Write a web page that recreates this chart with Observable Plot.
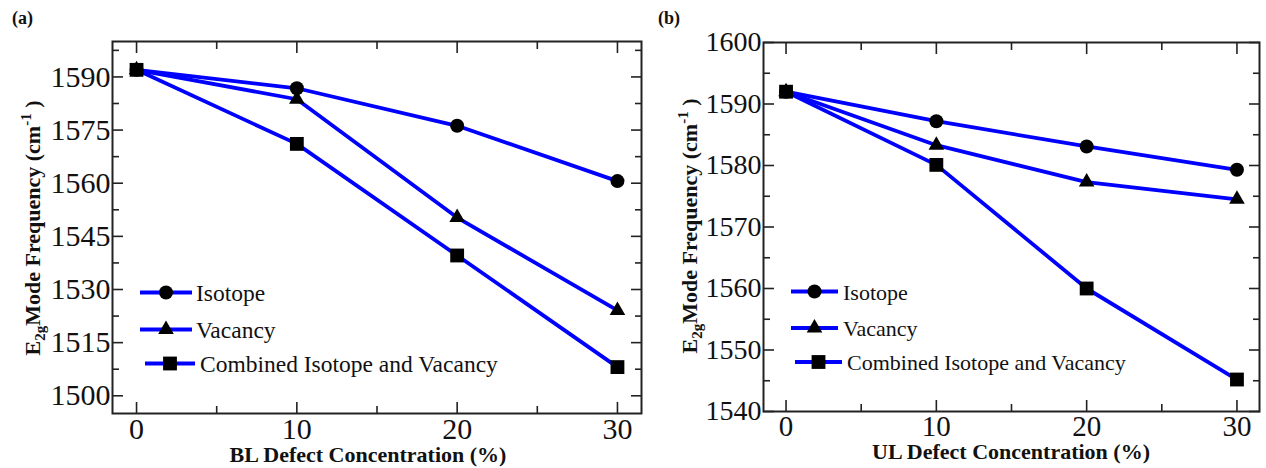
<!DOCTYPE html>
<html><head><meta charset="utf-8">
<script src="https://cdn.jsdelivr.net/npm/d3@7"></script>
<script src="https://cdn.jsdelivr.net/npm/@observablehq/plot@0.6"></script>
<style>
body{margin:0;background:#fff;}
#wrap{display:flex;width:1266px;height:468px;overflow:hidden;}
#wrap svg{display:block;}
#wrap svg, #wrap svg text{font-family:"Liberation Serif","Times New Roman",serif !important;}
</style></head><body><div id="wrap"></div>
<script>
// ---- data ----
const conc = [0, 10, 20, 30];
const seriesNames = ["Isotope", "Vacancy", "Combined Isotope and Vacancy"];
const seriesSymbols = ["circle", "triangle", "square"];

const aIsotope  = [1592, 1586.8, 1576.2, 1560.6];
const aVacancy  = [1592, 1583.7, 1550.3, 1524.1];
const aCombined = [1592, 1571.1, 1539.6, 1508.1];

const bIsotope  = [1592, 1587.2, 1583.1, 1579.3];
const bVacancy  = [1592, 1583.3, 1577.3, 1574.5];
const bCombined = [1592, 1580.1, 1560.0, 1545.2];

const xMajor = [0, 10, 20, 30];
const xMinor = [5, 15, 25];
const aYMajor = [1500, 1515, 1530, 1545, 1560, 1575, 1590];
const aYMinor = [1507.5, 1522.5, 1537.5, 1552.5, 1567.5, 1582.5, 1597.5];
const bYMajor = [1540, 1550, 1560, 1570, 1580, 1590, 1600];
const bYMinor = [1545, 1555, 1565, 1575, 1585, 1595];

const aXLabel = "BL Defect Concentration (%)";
const bXLabel = "UL Defect Concentration (%)";

const symR = {circle: 7, triangle: 5.8, square: 7.8};
const FONT = '"Liberation Serif", "Times New Roman", serif';

function panel(cfg) {
  const rows = [];
  cfg.series.forEach((vals, si) => conc.forEach((c, i) =>
    rows.push({series: seriesNames[si], sym: seriesSymbols[si], c, v: vals[i]})));
  const tk = {stroke: "#222", strokeWidth: 1.6};
  const blank = () => "";
  const svg = Plot.plot({
    width: cfg.width, height: 468,
    marginLeft: cfg.ml, marginRight: cfg.mr, marginTop: cfg.mt, marginBottom: cfg.mb,
    x: {domain: [-1.5, 31.5], label: null},
    y: {domain: cfg.yDomain, label: null},
    style: {fontFamily: FONT, color: "#111", background: "white", overflow: "visible"},
    marks: [
      Plot.line(rows, {x: "c", y: "v", z: "series", stroke: "#0000ff", strokeWidth: 3.8}),
      ...seriesSymbols.map(s => Plot.dot(rows.filter(d => d.sym === s),
        {x: "c", y: "v", symbol: s, r: symR[s], fill: "black", stroke: "none"})),
      Plot.axisX(xMajor, {anchor: "bottom", tickSize: -11, tickPadding: 15, fontSize: cfg.xFont, label: null, ...tk, tickFormat: d => String(d)}),
      Plot.axisX(xMinor, {anchor: "bottom", tickSize: -7, tickPadding: 0, label: null, ...tk, tickFormat: blank}),
      Plot.axisX(xMajor, {anchor: "top", tickSize: -11, tickPadding: 0, label: null, ...tk, tickFormat: blank}),
      Plot.axisX(xMinor, {anchor: "top", tickSize: -7, tickPadding: 0, label: null, ...tk, tickFormat: blank}),
      Plot.axisY(cfg.yMajor, {anchor: "left", tickSize: -11, tickPadding: 13, fontSize: cfg.yFont, label: null, ...tk, tickFormat: d => String(d)}),
      Plot.axisY(cfg.yMinor, {anchor: "left", tickSize: -7, tickPadding: 0, label: null, ...tk, tickFormat: blank}),
      Plot.axisY(cfg.yMajor, {anchor: "right", tickSize: -11, tickPadding: 0, label: null, ...tk, tickFormat: blank}),
      Plot.axisY(cfg.yMinor, {anchor: "right", tickSize: -7, tickPadding: 0, label: null, ...tk, tickFormat: blank}),
      Plot.frame({stroke: "#222", strokeWidth: 2})
    ]
  });
  const s = d3.select(svg);
  const txt = (sel) => sel.attr("font-family", FONT).attr("fill", "#111");
  // panel tag
  txt(s.append("text")).attr("x", cfg.tagX).attr("y", 24).attr("font-size", 18).attr("font-weight", "bold")
    .attr("text-anchor", "start").text(cfg.tag);
  // y label
  const t = txt(s.append("text"))
    .attr("transform", `translate(${cfg.ylx},${cfg.yly}) rotate(-90)`)
    .attr("text-anchor", "middle").attr("font-size", 22).attr("font-weight", "bold");
  t.append("tspan").text("E");
  t.append("tspan").attr("font-size", 15).attr("dy", 5).text("2g");
  t.append("tspan").attr("dy", -5).text("Mode Frequency (cm");
  t.append("tspan").attr("font-size", 15).attr("dy", -9).text("-1");
  t.append("tspan").attr("dy", 9).text(" )");
  // x label
  txt(s.append("text")).attr("x", cfg.xlx).attr("y", cfg.xly).attr("text-anchor", "middle")
    .attr("font-size", 22).attr("font-weight", "bold").text(cfg.xLabel);
  // legend
  const lg = s.append("g");
  seriesNames.forEach((name, i) => {
    const L = cfg.legend[i];
    const g = lg.append("g");
    g.append("line").attr("x1", L.x1).attr("x2", L.x2).attr("y1", L.y).attr("y2", L.y)
      .attr("stroke", "#0000ff").attr("stroke-width", 3.8);
    const sym = {circle: d3.symbolCircle, triangle: d3.symbolTriangle, square: d3.symbolSquare}[seriesSymbols[i]];
    const r = symR[seriesSymbols[i]];
    g.append("path").attr("transform", `translate(${(L.x1 + L.x2) / 2},${L.y})`)
      .attr("d", d3.symbol(sym, Math.PI * r * r)()).attr("fill", "black");
    txt(g.append("text")).attr("x", L.tx).attr("y", L.y + 8).attr("font-size", cfg.legFont)
      .attr("text-anchor", "start").text(name);
  });
  return svg;
}

const wrap = document.getElementById("wrap");
wrap.appendChild(panel({
  width: 650, ml: 112, mr: 9, mt: 41, mb: 55,
  yDomain: [1495, 1600], yMajor: aYMajor, yMinor: aYMinor,
  series: [aIsotope, aVacancy, aCombined],
  xFont: 30, yFont: 30, legFont: 23.5,
  tag: "(a)", tagX: 12,
  ylx: 40, yly: 228, xlx: 368, xly: 462, xLabel: aXLabel,
  legend: [
    {x1: 140, x2: 192, y: 292.5, tx: 196},
    {x1: 140, x2: 192, y: 329.5, tx: 196},
    {x1: 145, x2: 195, y: 363.5, tx: 200}
  ]
}));
wrap.appendChild(panel({
  width: 616, ml: 113, mr: 7, mt: 42, mb: 57,
  yDomain: [1540, 1600], yMajor: bYMajor, yMinor: bYMinor,
  series: [bIsotope, bVacancy, bCombined],
  xFont: 29, yFont: 28, legFont: 22,
  tag: "(b)", tagX: 8,
  ylx: 47, yly: 226, xlx: 361, xly: 459, xLabel: bXLabel,
  legend: [
    {x1: 141, x2: 188, y: 291.5, tx: 193},
    {x1: 141, x2: 188, y: 328, tx: 193},
    {x1: 145, x2: 192, y: 362, tx: 197}
  ]
}));
</script></body></html>
